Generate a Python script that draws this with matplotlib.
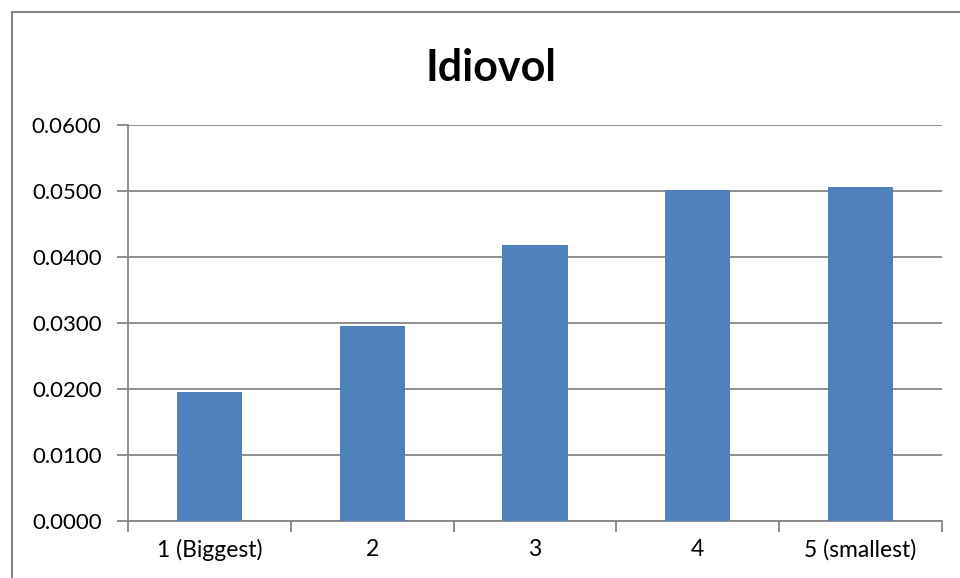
import matplotlib
matplotlib.use('Agg')
from matplotlib import pyplot as plt
from matplotlib.lines import Line2D
from matplotlib.ticker import FormatStrFormatter, FixedLocator

categories = ['1 (Biggest)', '2', '3', '4', '5 (smallest)']
idiovol = [0.0196, 0.0295, 0.0418, 0.0502, 0.0506]
yticks = [0.0, 0.01, 0.02, 0.03, 0.04, 0.05, 0.06]

plt.rcParams['font.family'] = ['Lato', 'DejaVu Sans']
grey = '#868686'

fig = plt.figure(figsize=(9.6, 5.78), dpi=100)
ax = fig.add_axes([128/960, 1-521/578, (942-128)/960, (521-125)/578])

x = list(range(len(categories)))
ax.bar(x, idiovol, width=0.4, color='#4F81BD', zorder=3)

ax.set_xlim(-0.5, len(categories) - 0.5)
ax.set_ylim(0, 0.06)
ax.set_yticks(yticks)
ax.yaxis.set_major_formatter(FormatStrFormatter('%.4f'))
ax.set_xticks(x)
ax.set_xticklabels(categories)
ax.xaxis.set_minor_locator(FixedLocator([i - 0.5 for i in range(len(categories) + 1)]))
ax.tick_params(axis='x', which='major', length=0, labelsize=16.5, pad=13)
ax.tick_params(axis='x', which='minor', length=8, width=1.3, color=grey, direction='out')
ax.tick_params(axis='y', length=8, width=1.3, color=grey, labelsize=16, pad=11)
ax.grid(axis='y', color=grey, linewidth=1.3, zorder=0)

for s in ['top', 'right']:
    ax.spines[s].set_visible(False)
for s in ['left', 'bottom']:
    ax.spines[s].set_color(grey)
    ax.spines[s].set_linewidth(1.3)

fig.text(491/960, 1-68/578, 'Idiovol', ha='center', va='center',
         fontsize=31, fontweight='bold')

# chart-area border (only left and top visible in the crop)
fig.add_artist(Line2D([12/960, 12/960], [0, 1-12/578], color=grey, linewidth=1.5))
fig.add_artist(Line2D([12/960, 1], [1-12/578, 1-12/578], color=grey, linewidth=1.5))

plt.savefig('out.png', dpi=100)
